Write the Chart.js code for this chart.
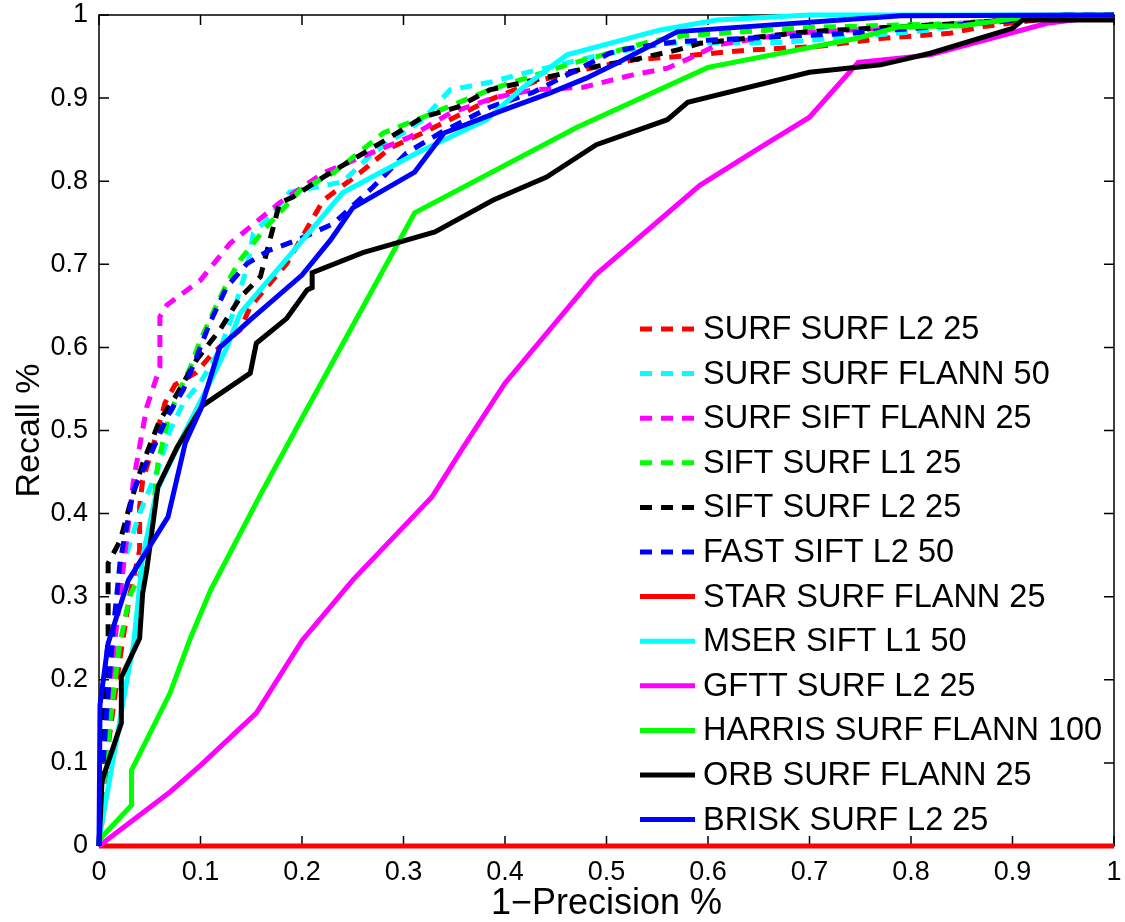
<!DOCTYPE html>
<html>
<head>
<meta charset="utf-8">
<script src="https://cdn.jsdelivr.net/npm/chart.js@4.4.1/dist/chart.umd.min.js"></script>
<style>
html,body{margin:0;padding:0;background:#fff;}
canvas{display:block;}
</style>
</head>
<body>
<canvas id="c" width="1125" height="922"></canvas>
<script>
// ---- data ----
const seriesNames = ['SURF SURF L2 25','SURF SURF FLANN 50','SURF SIFT FLANN 25','SIFT SURF L1 25','SIFT SURF L2 25','FAST SIFT L2 50','STAR SURF FLANN 25','MSER SIFT L1 50','GFTT SURF L2 25','HARRIS SURF FLANN 100','ORB SURF FLANN 25','BRISK SURF L2 25'];
const xTickLabels = ['0','0.1','0.2','0.3','0.4','0.5','0.6','0.7','0.8','0.9','1'];
const yTickLabels = ['0','0.1','0.2','0.3','0.4','0.5','0.6','0.7','0.8','0.9','1'];

const surfSurfL2X = [0,0.005,0.01,0.02,0.03,0.04,0.04,0.043,0.053,0.065,0.075,0.096,0.112,0.139,0.149,0.185,0.221,0.257,0.287,0.319,0.349,0.385,0.43,0.48,0.526,0.57,0.641,0.707,0.772,0.838,0.871,0.93,1];
const surfSurfL2Y = [0,0.05,0.13,0.22,0.3,0.356,0.408,0.44,0.48,0.533,0.555,0.57,0.593,0.621,0.649,0.701,0.777,0.81,0.84,0.858,0.876,0.898,0.92,0.935,0.946,0.95,0.958,0.962,0.972,0.978,0.986,0.995,1];

const surfSurfFlannX = [0,0.004,0.01,0.015,0.024,0.04,0.06,0.07,0.083,0.1,0.119,0.131,0.146,0.152,0.168,0.188,0.24,0.27,0.319,0.346,0.385,0.422,0.494,0.56,0.674,0.806,0.871,0.95,1];
const surfSurfFlannY = [0,0.08,0.17,0.26,0.34,0.4,0.46,0.5,0.533,0.558,0.597,0.637,0.697,0.737,0.757,0.787,0.799,0.834,0.874,0.91,0.919,0.931,0.952,0.966,0.967,0.98,0.992,1,1];

const surfSiftFlannX = [0,0.005,0.01,0.015,0.024,0.034,0.047,0.06,0.06,0.067,0.1,0.129,0.149,0.178,0.221,0.27,0.306,0.346,0.388,0.428,0.477,0.526,0.56,0.582,0.609,0.68,0.806,0.9,1];
const surfSiftFlannY = [0,0.07,0.15,0.24,0.336,0.44,0.528,0.576,0.637,0.651,0.681,0.725,0.745,0.774,0.81,0.835,0.853,0.882,0.9,0.91,0.913,0.928,0.936,0.948,0.964,0.978,0.986,0.995,1];

const siftSurfL1X = [0,0.005,0.012,0.02,0.03,0.047,0.053,0.058,0.068,0.078,0.09,0.1,0.112,0.126,0.139,0.162,0.198,0.231,0.28,0.319,0.385,0.461,0.543,0.575,0.7,0.85,0.95,1];
const siftSurfL1Y = [0,0.08,0.16,0.24,0.3,0.344,0.4,0.46,0.513,0.545,0.576,0.609,0.641,0.677,0.705,0.741,0.789,0.81,0.858,0.877,0.91,0.94,0.968,0.975,0.985,0.99,0.998,1];

const siftSurfL2X = [0,0.002,0.006,0.009,0.009,0.021,0.031,0.043,0.06,0.075,0.096,0.119,0.139,0.159,0.17,0.178,0.191,0.221,0.254,0.287,0.319,0.353,0.385,0.441,0.48,0.526,0.57,0.592,0.7,0.85,0.95,1];
const siftSurfL2Y = [0,0.08,0.2,0.25,0.34,0.368,0.413,0.46,0.513,0.54,0.585,0.621,0.66,0.685,0.737,0.774,0.781,0.805,0.829,0.853,0.877,0.889,0.91,0.925,0.936,0.946,0.958,0.966,0.98,0.99,0.998,1];

const fastSiftL2X = [0,0.003,0.008,0.014,0.021,0.034,0.053,0.067,0.083,0.096,0.109,0.126,0.146,0.168,0.195,0.231,0.27,0.303,0.336,0.385,0.428,0.474,0.503,0.523,0.57,0.74,0.888,0.95,1];
const fastSiftL2Y = [0,0.08,0.17,0.26,0.344,0.428,0.477,0.516,0.549,0.588,0.629,0.673,0.701,0.717,0.729,0.749,0.793,0.834,0.858,0.889,0.907,0.936,0.954,0.96,0.968,0.978,0.992,1,1];

const starSurfFlannX = [0,1];
const starSurfFlannY = [0,0];

const mserSiftL1X = [0,0.0,0.016,0.028,0.034,0.043,0.057,0.087,0.109,0.126,0.139,0.195,0.24,0.313,0.382,0.415,0.461,0.553,0.609,0.7,1];
const mserSiftL1Y = [0,0.007,0.119,0.203,0.242,0.348,0.428,0.504,0.557,0.6,0.641,0.721,0.786,0.834,0.874,0.91,0.952,0.982,0.994,1,1];

const gfttSurfL2X = [0,0.07,0.1,0.155,0.2,0.25,0.328,0.359,0.4,0.489,0.592,0.648,0.7,0.748,0.819,0.934,1];
const gfttSurfL2Y = [0,0.065,0.097,0.16,0.247,0.32,0.42,0.48,0.557,0.687,0.795,0.838,0.877,0.943,0.952,0.99,1];

const harrisSurfFlannX = [0,0.003,0.032,0.032,0.07,0.09,0.11,0.16,0.2,0.311,0.471,0.6,0.747,0.789,0.851,0.904,1];
const harrisSurfFlannY = [0.005,0.011,0.049,0.091,0.184,0.25,0.308,0.425,0.515,0.762,0.865,0.937,0.972,0.986,0.987,0.996,1];

const orbSurfFlannX = [0,0.003,0.022,0.022,0.04,0.043,0.047,0.058,0.077,0.102,0.149,0.155,0.185,0.205,0.21,0.21,0.26,0.331,0.388,0.441,0.49,0.56,0.58,0.7,0.77,0.819,0.9,0.91,1];
const orbSurfFlannY = [0,0.079,0.148,0.203,0.25,0.304,0.332,0.432,0.48,0.53,0.569,0.605,0.635,0.669,0.672,0.69,0.714,0.739,0.777,0.805,0.844,0.874,0.895,0.931,0.94,0.954,0.984,0.994,0.994];

const briskSurfL2X = [0,0.001,0.009,0.029,0.068,0.085,0.1,0.119,0.149,0.2,0.228,0.25,0.311,0.34,0.395,0.444,0.48,0.51,0.57,0.79,1];
const briskSurfL2Y = [0,0.17,0.244,0.32,0.396,0.485,0.525,0.6,0.633,0.687,0.729,0.768,0.811,0.858,0.884,0.906,0.924,0.942,0.98,0.999,1];

// ---- styles ----
const seriesColors = ['#ff0000','#00ffff','#ff00ff','#00ff00','#000000','#0000ff','#ff0000','#00ffff','#ff00ff','#00ff00','#000000','#0000ff'];
const seriesDashed = [true,true,true,true,true,true,false,false,false,false,false,false];
const seriesX = [surfSurfL2X,surfSurfFlannX,surfSiftFlannX,siftSurfL1X,siftSurfL2X,fastSiftL2X,starSurfFlannX,mserSiftL1X,gfttSurfL2X,harrisSurfFlannX,orbSurfFlannX,briskSurfL2X];
const seriesY = [surfSurfL2Y,surfSurfFlannY,surfSiftFlannY,siftSurfL1Y,siftSurfL2Y,fastSiftL2Y,starSurfFlannY,mserSiftL1Y,gfttSurfL2Y,harrisSurfFlannY,orbSurfFlannY,briskSurfL2Y];

const DASH = [12, 9];
const LW = 5;
const FONT = '"Liberation Sans", Arial, Helvetica, sans-serif';

const datasets = seriesNames.map((name, i) => ({
  label: name,
  data: seriesX[i].map((x, k) => ({x: x, y: seriesY[i][k]})),
  borderColor: seriesColors[i],
  backgroundColor: seriesColors[i],
  borderWidth: LW,
  borderDash: seriesDashed[i] ? DASH : [],
  borderCapStyle: 'butt',
  borderJoinStyle: 'miter',
  pointRadius: 0,
  tension: 0,
  fill: false,
  clip: false,
  order: seriesNames.length - 1 - i
}));

const framePlugin = {
  id: 'frame',
  beforeDatasetsDraw(chart) {
    const {ctx, chartArea: a, scales: {x, y}} = chart;
    ctx.save();
    ctx.strokeStyle = '#000';
    ctx.lineWidth = 1.5;
    ctx.strokeRect(a.left, a.top, a.right - a.left, a.bottom - a.top);
    ctx.beginPath();
    const tl = 10;
    x.ticks.forEach(t => {
      const px = x.getPixelForValue(t.value);
      ctx.moveTo(px, a.bottom); ctx.lineTo(px, a.bottom - tl);
      ctx.moveTo(px, a.top); ctx.lineTo(px, a.top + tl);
    });
    y.ticks.forEach(t => {
      const py = y.getPixelForValue(t.value);
      ctx.moveTo(a.left, py); ctx.lineTo(a.left + tl, py);
      ctx.moveTo(a.right, py); ctx.lineTo(a.right - tl, py);
    });
    ctx.stroke();
    ctx.restore();
  }
};

const legendPlugin = {
  id: 'matlabLegend',
  afterDatasetsDraw(chart) {
    const {ctx, chartArea: a} = chart;
    ctx.save();
    const x0 = a.left + 541, x1 = a.left + 596, tx = a.left + 604;
    const top = a.top + 314, step = 44.6;
    ctx.font = '32.5px ' + FONT;
    ctx.textBaseline = 'middle';
    ctx.textAlign = 'left';
    chart.data.datasets.forEach((ds, i) => {
      const yy = top + i * step;
      ctx.strokeStyle = ds.borderColor;
      ctx.lineWidth = LW;
      ctx.lineCap = 'butt';
      ctx.setLineDash(ds.borderDash || []);
      ctx.beginPath();
      ctx.moveTo(x0, yy); ctx.lineTo(x1, yy);
      ctx.stroke();
      ctx.setLineDash([]);
      ctx.fillStyle = '#000';
      ctx.fillText(ds.label, tx, yy + 1);
    });
    ctx.restore();
  }
};

Chart.defaults.color = '#000';
Chart.defaults.font.family = FONT;

new Chart(document.getElementById('c'), {
  type: 'line',
  data: {datasets: datasets},
  plugins: [framePlugin, legendPlugin],
  options: {
    responsive: false,
    animation: false,
    events: [],
    layout: {padding: {top: 15, right: 11, left: 0, bottom: 0}},
    plugins: {legend: {display: false}, tooltip: {enabled: false}},
    scales: {
      x: {
        type: 'linear', min: 0, max: 1,
        grid: {display: false, drawTicks: false},
        border: {display: false},
        ticks: {stepSize: 0.1, padding: 10, maxRotation: 0, autoSkip: false,
          font: {size: 27, family: FONT},
          callback: (v) => xTickLabels[Math.round(v * 10)]},
        title: {display: true, text: '1\u2212Precision %', font: {size: 36, family: FONT, lineHeight: 1}, padding: {top: 0, bottom: 0}},
        afterFit: (s) => { s.height = 76; s.paddingLeft = 0; s.paddingRight = 0; }
      },
      y: {
        type: 'linear', min: 0, max: 1,
        grid: {display: false, drawTicks: false},
        border: {display: false},
        ticks: {stepSize: 0.1, padding: 11, autoSkip: false,
          font: {size: 27, family: FONT},
          callback: (v) => yTickLabels[Math.round(v * 10)]},
        title: {display: true, text: 'Recall %', font: {size: 34, family: FONT, lineHeight: 1}, padding: {top: 13, bottom: 0}},
        afterFit: (s) => { s.width = 99; s.paddingTop = 0; s.paddingBottom = 0; }
      }
    }
  }
});
</script>
</body>
</html>
